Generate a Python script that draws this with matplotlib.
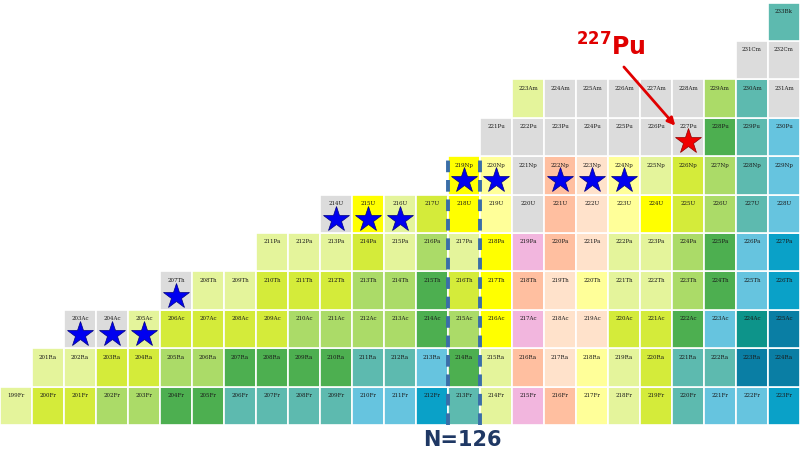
from matplotlib import pyplot as plt
from matplotlib.patches import Rectangle

# chart of nuclides near N=126, one row per element
elements = ['Fr', 'Ra', 'Ac', 'Th', 'Pa', 'U', 'Np', 'Pu', 'Am', 'Cm', 'Bk']
protons = [87, 88, 89, 90, 91, 92, 93, 94, 95, 96, 97]
first_mass = [199, 201, 203, 207, 211, 214, 219, 221, 223, 231, 233]
# one colour code per isotope, lightest mass first
row_codes = [
    'lyymmddttttccbtlisplytccb',
    'llyymmddddttcdlseplyttnn',
    'gglyyyymmmmdmYieeyydckn',
    'gllyyymmdyYsepllmdcb',
    'lllylmlYisellmdcb',
    'gYlyYpgsepYymtc',
    'Ypgseplymtc',
    'gggggggdtc',
    'lgggggmtg',
    'gg',
    't',
]
palette = {
    'g': '#DCDCDC', 'l': '#E4F49B', 'y': '#D4EB3A', 'm': '#ABDB68',
    'd': '#4DAF50', 't': '#5DBAAF', 'c': '#66C4DF', 'b': '#0AA1C8',
    'k': '#0D948A', 'n': '#0A7EA4', 'Y': '#FFFF00', 'p': '#FFFF99',
    'i': '#F2B6DE', 's': '#FFBFA0', 'e': '#FFE2CB',
}
# new isotopes (blue) and the highlighted one (red)
blue_stars = [('Ac', 203), ('Ac', 204), ('Ac', 205), ('Th', 207),
              ('U', 214), ('U', 215), ('U', 216),
              ('Np', 219), ('Np', 220), ('Np', 222), ('Np', 223), ('Np', 224)]
red_star = ('Pu', 227)
n_first = 112
magic_n = 126

fig = plt.figure(figsize=(8, 4.53), dpi=100)
ax = fig.add_axes([0, 0, 1, 1])

def cell_xy(el, mass):
    r = elements.index(el)
    n = mass - protons[r]
    return n - n_first, r

for r, el in enumerate(elements):
    for k, code in enumerate(row_codes[r]):
        mass = first_mass[r] + k
        x, y = cell_xy(el, mass)
        ax.add_patch(Rectangle((x, y), 1, 1, facecolor=palette[code],
                               edgecolor='white', linewidth=1.2))
        ax.text(x + 0.5, y + 0.77, f'{mass}{el}', ha='center', va='center',
                fontsize=4, family='DejaVu Serif', color='#1a1a1a')

for el, mass in blue_stars:
    x, y = cell_xy(el, mass)
    ax.plot(x + 0.5, y + 0.37, marker='*', markersize=19, color='#0000F0',
            markeredgecolor='#000080', markeredgewidth=0.5)
x, y = cell_xy(*red_star)
ax.plot(x + 0.5, y + 0.39, marker='*', markersize=19, color='#F00000',
        markeredgecolor='#900000', markeredgewidth=0.5)

# dashed box around N=126
top_row = elements.index('Np') + 1
for xx in (magic_n - n_first, magic_n - n_first + 1):
    ax.plot([xx, xx], [0, top_row], color='#3A6EA8', linewidth=2.8,
            linestyle=(0, (3, 2)))
ax.text(magic_n - n_first + 0.45, -0.39, 'N=126', ha='center', va='center',
        fontsize=15, fontweight='bold', color='#1F3864')

ax.annotate('', xy=(21.16, 7.74), xytext=(19.44, 9.38),
            arrowprops=dict(arrowstyle='-|>', color='#E00000', lw=2,
                            mutation_scale=11))
ax.text(19.1, 9.85, r'$\mathbf{^{227}}$Pu', ha='center', va='center',
        fontsize=17, fontweight='bold', color='#E00000')

ax.set_xlim(0, 25)
ax.set_ylim(-0.73, 11.07)
ax.axis('off')
fig.savefig('out.png', dpi=100)
